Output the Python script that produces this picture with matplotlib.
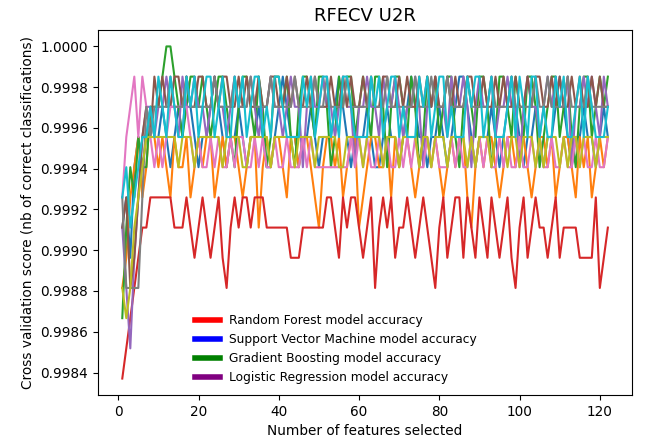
import numpy as np
import matplotlib
matplotlib.use("Agg")
import matplotlib.pyplot as plt
from matplotlib.lines import Line2D
from matplotlib.ticker import FormatStrFormatter

# misclassified samples per CV fold (one list per fold)
N_TEST = 6750
n_features = list(range(1, 123))

fold0 = [6,5,7,4,3,4,3,2,3,3, 2,3,4,3,2,3,1,2,3,4, 3,3,2,1,2,3,4,3,3,2,
         3,4,3,3,2,3,4,4,3,2, 1,2,3,3,4,3,3,2,3,4, 3,3,3,2,1,2,3,4,3,3,
         3,2,3,4,4,3,2,3,3,4, 3,2,1,2,3,3,4,3,3,2, 3,4,3,2,1,1,2,3,4,3,
         3,3,2,3,4,3,2,1,2,3, 4,3,3,2,3,4,3,3,2,1, 2,3,4,3,3,2,3,3,4,3, 2,3]
fold1 = [8,7,5,4,3,5,4,2,3,4, 3,4,5,3,4,4,3,5,4,3, 4,3,3,5,4,3,4,3,3,4,
         5,4,3,3,6,4,3,4,3,3, 4,5,3,3,4,3,3,4,5,6, 4,3,3,4,3,5,4,3,3,6,
         5,4,3,3,4,4,3,5,3,4, 3,3,4,5,4,3,3,4,3,4, 5,4,3,4,3,3,5,6,4,3,
         4,3,3,4,5,4,3,3,4,3, 3,4,5,4,3,3,4,3,5,4, 3,3,4,5,3,4,3,5,4,3, 4,3]
fold2 = [9,6,4,5,3,4,4,2,2,2, 1,0,0,1,2,3,2,1,1,2, 1,2,3,2,1,1,2,3,4,2,
         1,1,2,3,1,2,4,3,1,1, 2,1,3,4,2,1,1,2,3,1, 1,2,4,3,1,2,1,1,3,2,
         1,2,3,1,1,2,4,2,1,1, 2,3,1,2,4,3,1,2,1,3, 2,1,1,3,4,2,1,2,3,1,
         1,2,4,3,1,1,2,3,1,2, 3,1,1,2,4,3,2,1,1,3, 2,1,3,4,2,1,1,3,2,1, 2,1]
fold3 = [11,10,9,8,7,6,6,5,5,5, 5,5,5,6,6,6,5,6,7,6, 5,6,7,6,5,7,8,6,5,6,
         5,5,6,5,5,5,6,6,6,6, 6,6,7,7,7,6,6,6,6,6, 6,5,5,6,7,5,6,5,5,6,
         7,6,5,8,6,5,6,5,7,6, 6,5,6,7,6,5,6,7,8,6, 5,7,6,5,5,7,5,6,7,5,
         6,7,5,6,7,6,5,7,8,6, 5,7,6,5,6,6,7,6,5,7, 6,6,6,6,7,7,7,7,5,8, 7,6]
fold4 = [6,8,10,7,5,3,2,2,3,2, 2,1,2,2,3,1,2,2,1,2, 2,3,2,1,2,2,3,2,1,2,
         2,2,1,2,3,2,2,1,2,2, 3,2,1,2,2,4,2,1,2,2, 1,2,2,3,2,1,2,2,4,2,
         2,1,2,2,3,1,2,2,1,2, 3,2,2,1,2,4,2,2,1,2, 2,3,1,2,2,1,2,4,2,1,
         2,2,1,3,2,2,1,2,2,4, 2,1,2,2,3,2,1,2,1,2, 2,1,4,2,2,1,2,1,2,3, 1,2]
fold5 = [6,5,8,7,5,3,2,3,1,2, 1,2,2,1,1,2,1,2,2,1, 1,2,2,1,2,1,1,2,2,1,
         2,1,2,2,1,2,2,1,1,2, 2,1,2,1,2,2,1,2,1,2, 2,2,1,2,2,1,2,1,2,2,
         1,2,1,2,2,1,1,2,2,1, 2,1,2,2,1,2,1,2,1,2, 2,1,2,1,2,2,1,1,2,2,
         1,2,2,1,2,1,2,2,1,2, 2,1,2,1,1,2,2,1,2,1, 2,2,1,2,1,2,2,1,2,1, 2,2]
fold6 = [5,3,2,1,3,1,2,3,4,3, 4,3,2,2,2,2,2,3,4,3, 4,4,3,4,3,4,4,3,4,3,
         3,4,4,3,4,3,4,4,3,4, 4,3,4,4,4,3,4,3,4,4, 4,4,4,4,4,4,4,3,4,3,
         4,3,4,4,3,4,3,4,4,3, 4,3,4,3,4,4,3,4,3,4, 4,4,3,4,3,4,4,3,4,3,
         4,3,4,4,3,4,3,4,4,3, 4,4,3,4,3,4,4,3,4,4, 3,4,4,3,4,3,4,4,3,4, 4,3]
fold7 = [5,8,8,8,8,5,2,3,2,2, 2,2,1,2,2,2,1,2,2,2, 2,2,2,1,2,2,2,2,1,2,
         2,2,1,2,2,2,2,1,2,2, 2,2,2,1,2,2,2,2,1,2, 2,1,2,2,2,2,1,2,2,2,
         2,2,1,2,2,2,1,2,2,2, 2,2,2,1,2,2,2,1,2,2, 2,1,2,2,2,2,1,2,2,2,
         2,2,1,2,2,2,2,1,2,2, 2,2,2,1,2,2,1,2,2,2, 2,1,2,2,2,2,1,2,2,2, 2,2]
fold8 = [8,9,8,6,5,4,3,3,3,3, 3,3,3,3,4,3,3,3,4,3, 3,3,3,3,3,4,3,3,3,3,
         4,4,3,3,3,3,3,4,3,3, 3,3,3,4,3,3,3,3,4,3, 3,3,3,3,4,4,3,3,3,3,
         4,3,3,3,3,4,3,3,3,4, 3,3,3,3,4,3,3,4,3,3, 3,4,3,3,3,3,4,3,4,3,
         3,3,4,3,3,3,4,3,3,4, 3,3,3,4,3,4,3,3,3,4, 3,4,3,3,4,3,3,3,4,3, 3,3]
fold9 = [5,4,6,5,4,3,3,2,3,1, 2,3,1,2,3,3,1,2,1,3, 2,1,1,3,2,1,3,3,1,2,
         1,3,2,1,1,3,2,3,1,1, 2,3,3,3,3,1,2,1,3,2, 1,1,3,2,3,1,1,2,3,3,
         3,3,1,2,1,3,2,1,1,3, 2,3,3,3,1,2,1,3,2,1, 1,3,2,3,3,3,1,2,1,1,
         3,2,1,3,3,3,2,1,3,1, 2,3,1,1,3,2,3,3,1,2, 1,3,3,2,1,3,1,2,3,3, 3,2]

folds = [fold0, fold1, fold2, fold3, fold4, fold5, fold6, fold7, fold8, fold9]

legend_labels = ["Random Forest model accuracy",
                 "Support Vector Machine model accuracy",
                 "Gradient Boosting model accuracy",
                 "Logistic Regression model accuracy"]
legend_colors = ["red", "blue", "green", "purple"]

fig = plt.figure(figsize=(6.49, 4.45), dpi=100)
ax = fig.add_axes([0.151, 0.112, 0.823, 0.821])

for errs in folds:
    scores = 1 - np.array(errs) / N_TEST
    ax.plot(n_features, scores, lw=1.5)

ax.set_title("RFECV U2R", fontsize=13)
ax.set_xlabel("Number of features selected", fontsize=9.8)
ax.set_ylabel("Cross validation score (nb of correct classifications)", fontsize=9.8)
ax.yaxis.set_major_formatter(FormatStrFormatter("%.4f"))
ax.tick_params(labelsize=9.8)

handles = [Line2D([0], [0], color=c, lw=4) for c in legend_colors]
ax.legend(handles, legend_labels, loc="lower center", bbox_to_anchor=(0.446, 0.0),
          frameon=False, fontsize=8.8)

fig.savefig("out.png", dpi=100)
